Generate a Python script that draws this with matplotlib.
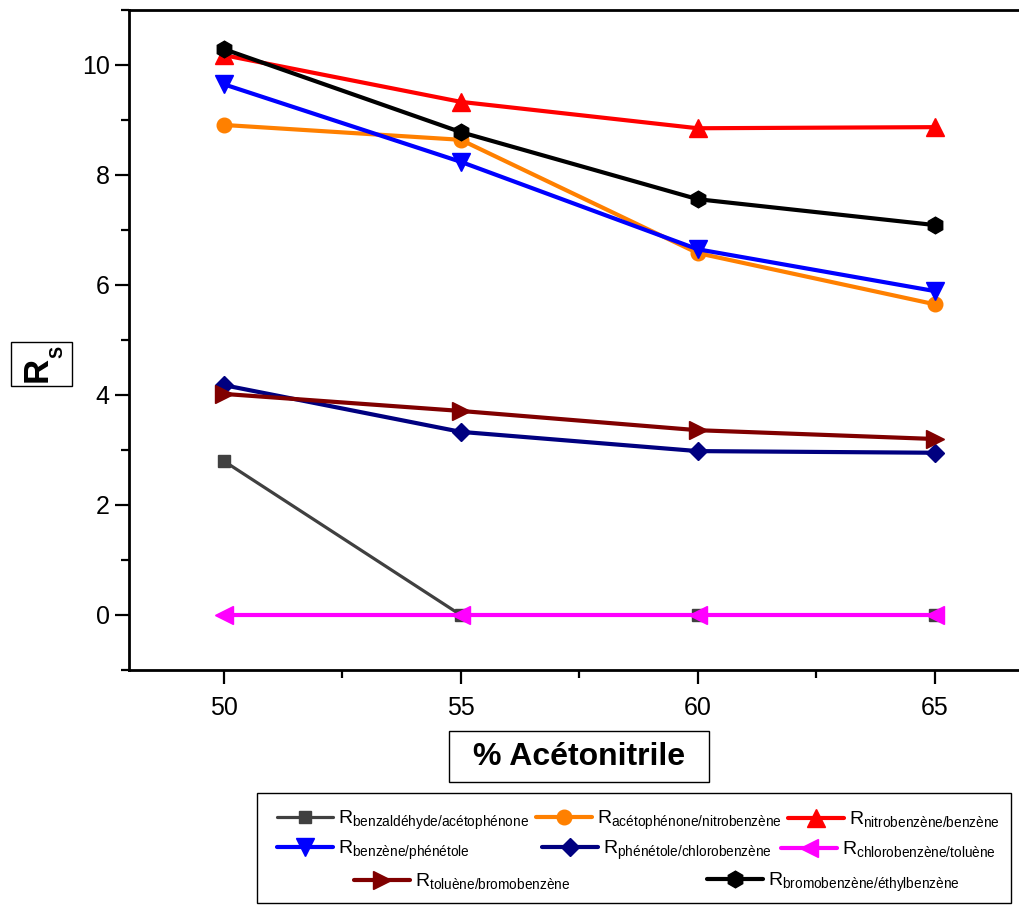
import numpy as np
import matplotlib
matplotlib.use("Agg")
import matplotlib.pyplot as plt
from matplotlib.patches import Rectangle
from matplotlib.ticker import MultipleLocator

# data
acetonitrile = [50, 55, 60, 65]
rs_benzaldehyde_acetophenone = [2.80, 0.0, 0.0, 0.0]
rs_acetophenone_nitrobenzene = [8.91, 8.64, 6.58, 5.65]
rs_nitrobenzene_benzene = [10.18, 9.33, 8.85, 8.87]
rs_benzene_phenetole = [9.65, 8.24, 6.65, 5.89]
rs_phenetole_chlorobenzene = [4.18, 3.33, 2.98, 2.95]
rs_chlorobenzene_toluene = [0.0, 0.0, 0.0, 0.0]
rs_toluene_bromobenzene = [4.02, 3.71, 3.36, 3.20]
rs_bromobenzene_ethylbenzene = [10.29, 8.78, 7.56, 7.09]

pairs = ['benzaldéhyde/acétophénone', 'acétophénone/nitrobenzène',
         'nitrobenzène/benzène', 'benzène/phénétole',
         'phénétole/chlorobenzène', 'chlorobenzène/toluène',
         'toluène/bromobenzène', 'bromobenzène/éthylbenzène']

series = [rs_benzaldehyde_acetophenone, rs_acetophenone_nitrobenzene,
          rs_nitrobenzene_benzene, rs_benzene_phenetole,
          rs_phenetole_chlorobenzene, rs_chlorobenzene_toluene,
          rs_toluene_bromobenzene, rs_bromobenzene_ethylbenzene]

colors = ['#404040', '#ff8000', '#ff0000', '#0000ff',
          '#000080', '#ff00ff', '#800000', '#000000']
markers = ['s', 'o', '^', 'v', 'D', '<', '>', 'h']
msizes = [8.5, 10.5, 13, 13, 9.5, 13, 13, 12]
lwidths = [2.3, 3, 3, 3, 3, 3, 3, 3]

plt.rcParams['font.family'] = ['Liberation Sans', 'DejaVu Sans']
plt.rcParams['mathtext.fontset'] = 'custom'
plt.rcParams['mathtext.rm'] = 'Liberation Sans'

W, H = 1019, 905
fig = plt.figure(figsize=(W / 100, H / 100), dpi=100)
ax = fig.add_axes([129 / W, 1 - 670 / H, 1 - 129 / W, 660 / H])

def px(x, y):
    # figure pixel (from top-left) -> figure fraction
    return x / W, 1 - y / H

handles = []
for y, c, m, ms, lw in zip(series, colors, markers, msizes, lwidths):
    h, = ax.plot(acetonitrile, y, color=c, marker=m, markersize=ms, linewidth=lw,
                 markeredgecolor=c, solid_capstyle='round')
    handles.append(h)

ax.set_xlim(48, 66.78)
ax.set_ylim(-1, 11)
ax.xaxis.set_major_locator(MultipleLocator(5))
ax.xaxis.set_minor_locator(MultipleLocator(2.5))
ax.yaxis.set_major_locator(MultipleLocator(2))
ax.yaxis.set_minor_locator(MultipleLocator(1))
ax.spines['right'].set_visible(False)
for s in ['left', 'bottom', 'top']:
    ax.spines[s].set_linewidth(2)
ax.tick_params(which='both', direction='out', width=1.6)
ax.tick_params(which='major', length=10)
ax.tick_params(which='minor', length=6)
ax.tick_params(axis='y', labelsize=18, pad=4)
ax.tick_params(axis='x', labelsize=18, pad=9)

# boxed axis titles, Origin style
fig.text(*px(579, 765), '% Acétonitrile', fontweight='bold', fontsize=23,
         ha='center', va='baseline')
fig.patches.append(Rectangle(px(449, 782), 260 / W, 51 / H, transform=fig.transFigure,
                             fill=False, ec='black', lw=1))
fig.text(*px(37, 369), 'R', fontweight='bold', fontsize=25, rotation=90,
         ha='center', va='center')
fig.text(*px(58, 352), 'S', fontweight='bold', fontsize=13, rotation=90,
         ha='center', va='center')
fig.patches.append(Rectangle(px(11, 386), 61 / W, 44 / H, transform=fig.transFigure,
                             fill=False, ec='black', lw=1))

# legend laid out like the Origin one: 3 + 3 + 2 entries
legend_pos = [(277, 820), (536, 820), (788, 820),
              (277, 850), (542, 850), (781, 850),
              (354, 882), (707, 882)]
for h, pair, (x, y) in zip(handles, pairs, legend_pos):
    fig.legend(handles=[h], labels=[r'$\mathregular{R}_{\mathregular{%s}}$' % pair],
               loc='center left', bbox_to_anchor=px(x, y),
               frameon=False, fontsize=14, handlelength=2.9, handletextpad=0.25,
               borderpad=0, borderaxespad=0)
fig.patches.append(Rectangle(px(257, 903), (1011 - 257) / W, (903 - 793) / H,
                             transform=fig.transFigure, fill=False, ec='black', lw=1))

fig.savefig('out.png', dpi=100)
